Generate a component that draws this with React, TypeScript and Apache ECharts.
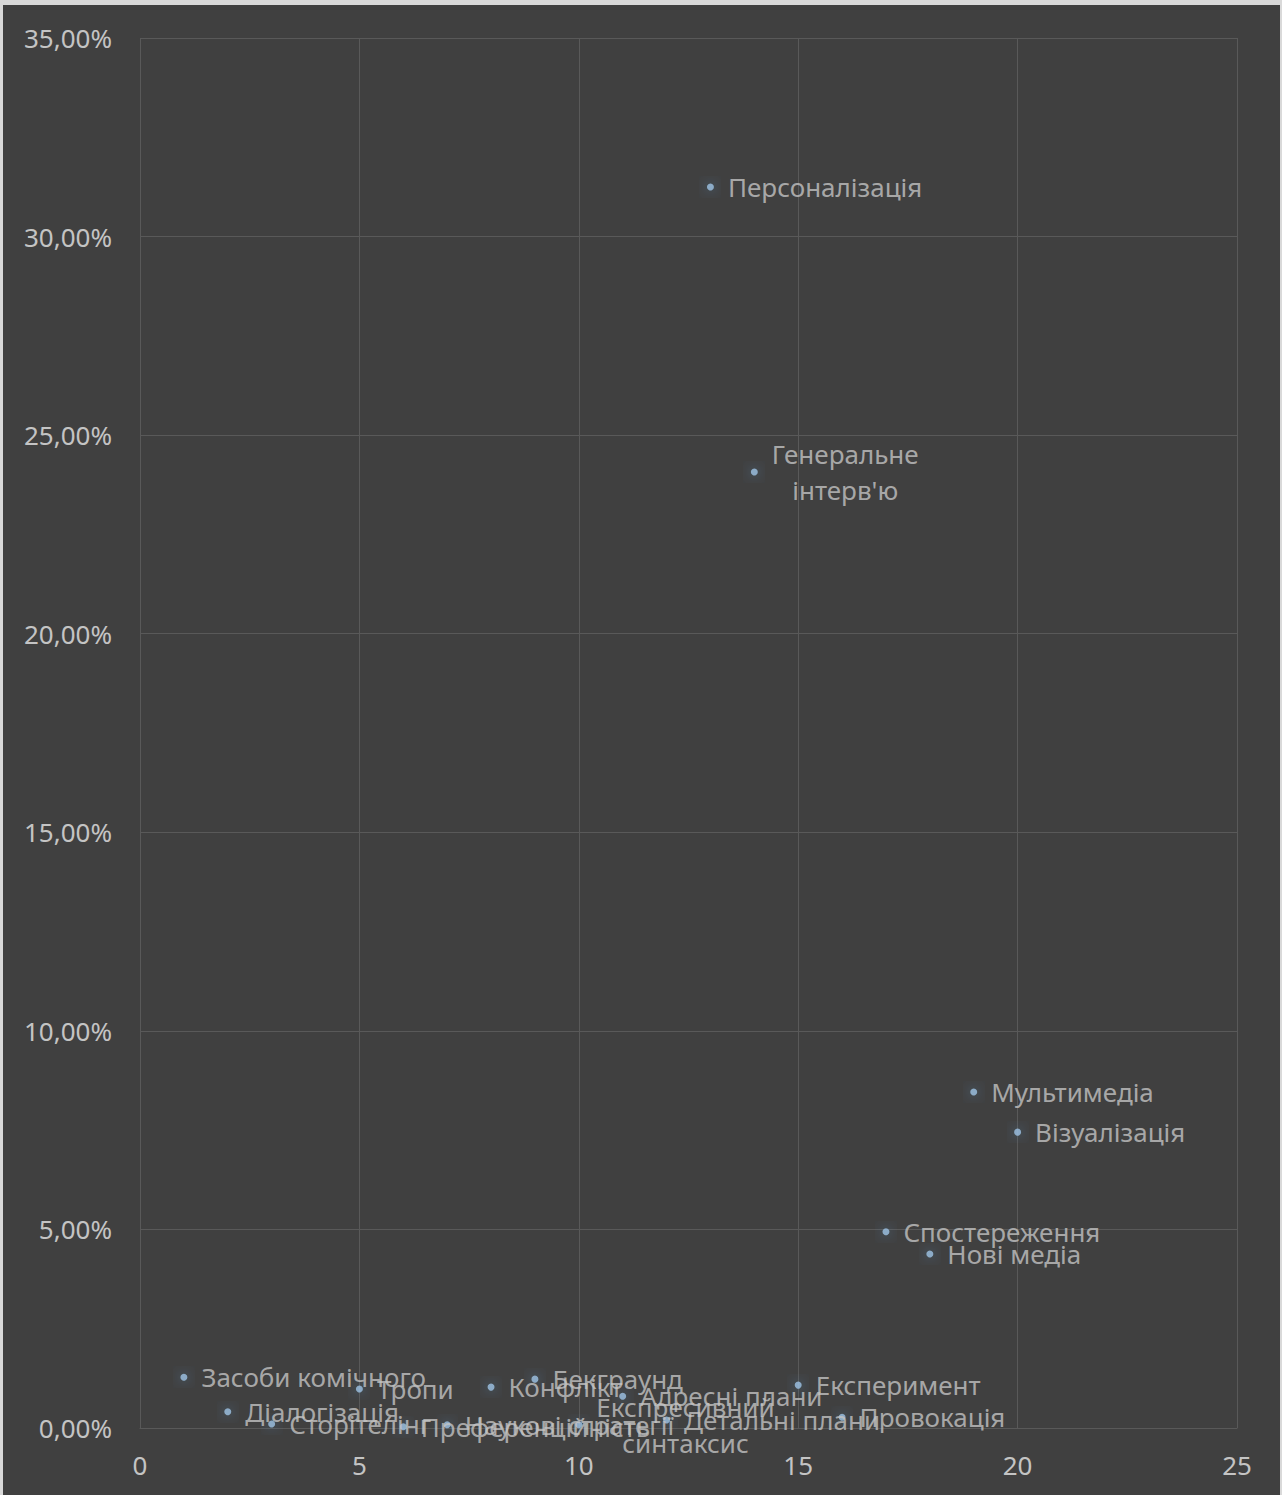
import React, { useEffect, useRef } from "react";
import * as echarts from "echarts";

const names = [
  "Засоби комічного",
  "Діалогізація",
  "Сторітелінг",
  "Тропи",
  "Преференційність",
  "Наукові стратегії",
  "Конфлікт",
  "Бекграунд",
  "Експресивний\nсинтаксис",
  "Адресні плани",
  "Детальні плани",
  "Персоналізація",
  "Генеральне\nінтерв'ю",
  "Експеримент",
  "Провокація",
  "Спостереження",
  "Нові медіа",
  "Мультимедіа",
  "Візуалізація",
];
const xs = [1, 2, 3, 5, 6, 7, 8, 9, 10, 11, 12, 13, 14, 15, 16, 17, 18, 19, 20];
const ys = [1.28, 0.41, 0.1, 0.98, 0.03, 0.08, 1.03, 1.23, 0.08, 0.8, 0.2, 31.25, 24.07, 1.08, 0.27, 4.94, 4.38, 8.46, 7.45];

export default function App() {
  const ref = useRef<HTMLDivElement>(null);
  useEffect(() => {
    document.body.style.margin = "0";
    const chart = echarts.init(ref.current!, null, { renderer: "svg" });
    const font = "'Noto Sans', 'Open Sans', sans-serif";
    const textColor = "#c4c4c4";
    const gridColor = "#595959";
    const data = xs.map((x, i) => {
      const multi = names[i].includes("\n");
      return {
        value: [x, ys[i]],
        name: names[i],
        label: multi
          ? {
              formatter: names[i]
                .split("\n")
                .map((s) => "{c|" + s + "}")
                .join("\n"),
              rich: {
                c: {
                  align: "center",
                  fontSize: 26,
                  lineHeight: 36,
                  color: textColor,
                  fontFamily: font,
                },
              },
            }
          : undefined,
      };
    });
    chart.setOption({
      animation: false,
      backgroundColor: "#404040",
      grid: { left: 137, right: 43, top: 33, bottom: 67 },
      xAxis: {
        type: "value",
        min: 0,
        max: 25,
        interval: 5,
        axisLine: { show: true, lineStyle: { color: gridColor } },
        axisTick: { show: false },
        splitLine: { show: true, lineStyle: { color: gridColor, width: 1 } },
        axisLabel: { color: textColor, fontSize: 26, fontFamily: font, margin: 24 },
      },
      yAxis: {
        type: "value",
        min: 0,
        max: 35,
        interval: 5,
        axisLine: { show: false },
        axisTick: { show: false },
        splitLine: { show: true, lineStyle: { color: gridColor, width: 1 } },
        axisLabel: {
          color: textColor,
          fontSize: 26,
          fontFamily: font,
          margin: 28,
          formatter: (v: number) => v.toFixed(2).replace(".", ",") + "%",
        },
      },
      series: [
        {
          type: "scatter",
          symbol: "circle",
          symbolSize: 7,
          itemStyle: {
            color: "#9dc3e6",
            shadowBlur: 14,
            shadowColor: "rgba(91,155,213,0.95)",
          },
          label: {
            show: true,
            position: "right",
            distance: 14,
            formatter: "{b}",
            color: textColor,
            fontSize: 26,
            fontFamily: font,
            lineHeight: 36,
          },
          data,
        },
      ],
    });
    return () => chart.dispose();
  }, []);
  return (
    <div style={{ width: 1282, height: 1495, background: "#d9d9d9", position: "relative", overflow: "hidden" }}>
      <div
        ref={ref}
        style={{ position: "absolute", left: 3, top: 5, width: 1277, height: 1490 }}
      />
    </div>
  );
}
